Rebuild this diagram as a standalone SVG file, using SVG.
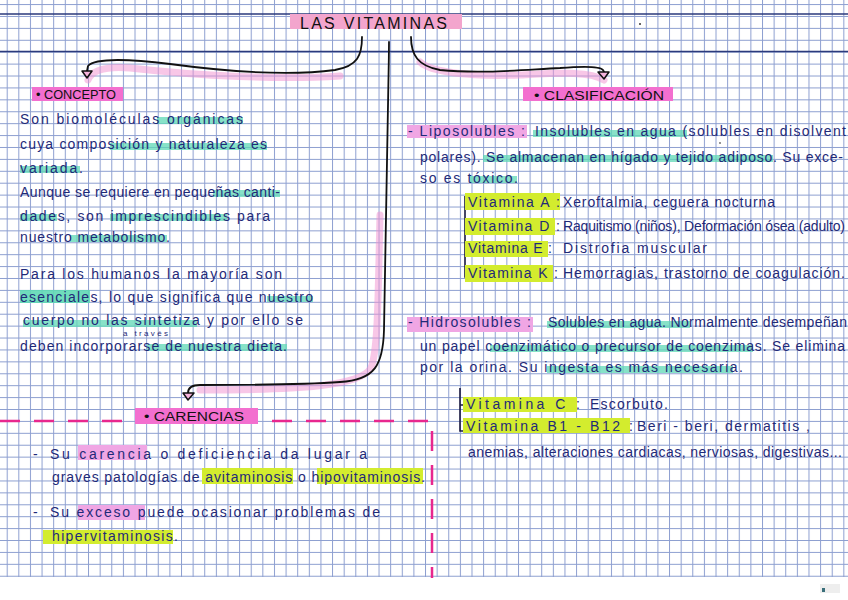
<svg xmlns="http://www.w3.org/2000/svg" width="848" height="600" viewBox="0 0 848 600">
<defs>
<pattern id="grid" patternUnits="userSpaceOnUse" x="6.7" y="4.06" width="11.62" height="11.91">
<path d="M0 0.5H11.62M0.5 0V11.91" stroke="#8d9fd0" stroke-width="1" fill="none"/>
</pattern>
</defs>
<style>
.h{font-family:"Liberation Sans","DejaVu Sans",sans-serif;font-size:14px;fill:#1f2a78;}
.s{font-family:"Liberation Sans","DejaVu Sans",sans-serif;font-size:8px;fill:#1f2a78;}
.lb{font-family:"Liberation Sans","DejaVu Sans",sans-serif;font-size:13px;fill:#111;}
.tl{font-family:"Liberation Sans","DejaVu Sans",sans-serif;font-size:16px;fill:#111;}
.box{fill:#f36fcf;}
.tb{fill:#f3a5cd;}
.pk{fill:#f0a6e4;}
.tq{fill:#5fd8b5;opacity:0.75;}
.tqs{fill:#5fd8b5;opacity:0.9;}
.yl{fill:#d3ec2e;}
.con{fill:none;stroke:#111;stroke-width:1.8;stroke-linecap:round;stroke-linejoin:round;}
.glow{fill:none;stroke:#f28fcf;stroke-width:7;opacity:0.5;stroke-linecap:round;}
.ah{fill:#f6b3dc;stroke:#111;stroke-width:1.5;stroke-linejoin:round;}
.br{fill:none;stroke:#1a1a40;stroke-width:1.6;}
.dash{fill:none;stroke:#e8278e;stroke-width:2.5;stroke-dasharray:20 14;}
</style>
<rect width="848" height="600" fill="#ffffff"/>
<rect x="0" y="0" width="848" height="577" fill="url(#grid)"/>
<path d="M0 14H848M0 51.5H848" stroke="#2b3a7c" stroke-width="1.6"/>
<circle cx="640" cy="24" r="1" fill="#333"/>
<circle cx="720" cy="143" r="0.9" fill="#666"/>
<rect x="820" y="584" width="20" height="9" fill="#eeeeee"/>
<rect x="822" y="588" width="3" height="4" fill="#3a6f7a"/>

<g id="connectors">
<path class="glow" d="M340 76 C280 80 200 76 130 68 C105 66 92 70 88 80"/>
<path class="glow" d="M420 62 C430 72 470 77 520 75 C560 73 590 71 604 80"/>
<path class="glow" d="M380 215 C378 300 378 350 371 368 C361 386 300 390 200 390"/>
<path class="con" d="M362 37 C362 55 358 66 335 70 C290 76 230 72 170 64 C130 59 95 58 88 66 L87 71"/>
<path class="ah" d="M82 71 L92 71 L87 78 Z"/>
<path class="con" d="M411 37 C411 55 418 66 440 70 C480 74 520 70 560 68 C585 66 600 66 603 70 L604 72"/>
<path class="ah" d="M598 72 L609 72 L604 79 Z"/>
<path class="con" d="M389 42 C388 150 386 260 384 330 C383 365 375 380 340 382 C300 385 240 385 200 385 C192 385 188 388 188 393"/>
<path class="ah" d="M183 393 L194 393 L188 400 Z"/>
<path class="dash" d="M0 421 H432 V578"/>
</g>

<g id="title">
<rect class="tb" x="290" y="14" width="172" height="15"/>
<text class="tl" x="300" y="29" textLength="147" lengthAdjust="spacing">LAS VITAMINAS</text>
</g>

<g id="concepto">
<rect class="box" x="32" y="87" width="91" height="14"/>
<text class="lb" x="36" y="99" textLength="80" lengthAdjust="spacingAndGlyphs">• CONCEPTO</text>
</g>

<g id="concepto-texto">
<rect class="tq" x="157" y="117" width="86" height="7"/>
<rect class="tq" x="110" y="143" width="157" height="7"/>
<rect class="tq" x="20" y="166" width="60" height="7"/>
<rect class="tq" x="213" y="190" width="67" height="7"/>
<rect class="tq" x="20" y="214" width="37" height="7"/>
<rect class="tq" x="110" y="214" width="117" height="7"/>
<rect class="tq" x="70" y="235" width="97" height="7"/>
<rect class="tqs" x="20" y="290" width="70" height="13"/>
<rect class="tq" x="267" y="296" width="46" height="6"/>
<rect class="tq" x="23" y="320" width="174" height="7"/>
<rect class="tq" x="147" y="344" width="140" height="7"/>
<text class="h" x="20" y="124" textLength="223" lengthAdjust="spacing">Son biomoléculas orgánicas</text>
<text class="h" x="20" y="149" textLength="247" lengthAdjust="spacing">cuya composición y naturaleza es</text>
<text class="h" x="20" y="173" textLength="63" lengthAdjust="spacing">variada.</text>
<text class="h" x="20" y="197" textLength="260" lengthAdjust="spacing">Aunque se requiere en pequeñas canti-</text>
<text class="h" x="20" y="221" textLength="250" lengthAdjust="spacing">dades, son imprescindibles para</text>
<text class="h" x="20" y="242" textLength="150" lengthAdjust="spacing">nuestro metabolismo.</text>
<text class="h" x="20" y="279" textLength="262" lengthAdjust="spacing">Para los humanos la mayoría son</text>
<text class="h" x="20" y="302" textLength="293" lengthAdjust="spacing">esenciales, lo que significa que nuestro</text>
<text class="h" x="23" y="325" textLength="280" lengthAdjust="spacing">cuerpo no las sintetiza y por ello se</text>
<text class="s" x="123" y="336" textLength="45" lengthAdjust="spacing">a través</text>
<text class="h" x="20" y="351" textLength="267" lengthAdjust="spacing">deben incorporarse de nuestra dieta.</text>
</g>

<g id="clasificacion">
<rect class="box" x="523" y="87" width="150" height="14"/>
<text class="lb" x="534" y="100" textLength="130" lengthAdjust="spacingAndGlyphs">• CLASIFICACIÓN</text>
</g>

<g id="liposolubles">
<rect class="pk" x="407" y="125" width="120" height="13"/>
<rect class="tq" x="533" y="130" width="154" height="7"/>
<rect class="tq" x="483" y="155" width="290" height="7"/>
<rect class="tq" x="470" y="176" width="47" height="7"/>
<text class="h" x="408" y="136" textLength="117" lengthAdjust="spacing">- Liposolubles :</text>
<text class="h" x="535" y="136" textLength="311" lengthAdjust="spacing">Insolubles en agua (solubles en disolvent</text>
<text class="h" x="420" y="162" textLength="423" lengthAdjust="spacing">polares). Se almacenan en hígado y tejido adiposo. Su exce-</text>
<text class="h" x="420" y="183" textLength="98" lengthAdjust="spacing">so es tóxico.</text>
<path class="br" d="M465 196 V277 H472 M465 202 H470 M465 227 H470 M465 248 H470"/>
<rect class="yl" x="465" y="193" width="95" height="17"/>
<rect class="yl" x="465" y="218" width="90" height="17"/>
<rect class="yl" x="465" y="241" width="83" height="16"/>
<rect class="yl" x="465" y="265" width="88" height="17"/>
<text class="h" x="468" y="207" textLength="92" lengthAdjust="spacing">Vitamina A :</text>
<text class="h" x="563" y="207" textLength="212" lengthAdjust="spacing">Xeroftalmia, ceguera nocturna</text>
<text class="h" x="468" y="231" textLength="92" lengthAdjust="spacing">Vitamina D :</text>
<text class="h" x="563" y="231" textLength="282" lengthAdjust="spacing">Raquitismo (niños), Deformación ósea (adulto)</text>
<text class="h" x="468" y="253" textLength="84" lengthAdjust="spacing">Vitamina E :</text>
<text class="h" x="563" y="253" textLength="144" lengthAdjust="spacing">Distrofia muscular</text>
<text class="h" x="468" y="278" textLength="90" lengthAdjust="spacing">Vitamina K :</text>
<text class="h" x="563" y="278" textLength="282" lengthAdjust="spacing">Hemorragias, trastorno de coagulación.</text>
</g>

<g id="hidrosolubles">
<rect class="pk" x="407" y="317" width="126" height="15"/>
<rect class="tq" x="547" y="321" width="143" height="7"/>
<rect class="tq" x="490" y="345" width="263" height="7"/>
<rect class="tq" x="547" y="366" width="186" height="7"/>
<text class="h" x="408" y="327" textLength="123" lengthAdjust="spacing">- Hidrosolubles :</text>
<text class="h" x="548" y="327" textLength="299" lengthAdjust="spacing">Solubles en agua. Normalmente desempeñan</text>
<text class="h" x="420" y="351" textLength="425" lengthAdjust="spacing">un papel coenzimático o precursor de coenzimas. Se elimina</text>
<text class="h" x="420" y="372" textLength="323" lengthAdjust="spacing">por la orina. Su ingesta es más necesaria.</text>
<path class="br" d="M460 388 V431 H466 M460 405 H465"/>
<rect class="yl" x="463" y="397" width="114" height="15"/>
<rect class="yl" x="463" y="418" width="167" height="15"/>
<text class="h" x="466" y="409" textLength="114" lengthAdjust="spacing">Vitamina C :</text>
<text class="h" x="590" y="409" textLength="78" lengthAdjust="spacing">Escorbuto.</text>
<text class="h" x="466" y="431" textLength="167" lengthAdjust="spacing">Vitamina B1 - B12 :</text>
<text class="h" x="637" y="431" textLength="173" lengthAdjust="spacing">Beri - beri, dermatitis ,</text>
<text class="h" x="468" y="457" textLength="374" lengthAdjust="spacing">anemias, alteraciones cardiacas, nerviosas, digestivas...</text>
</g>

<g id="carencias">
<rect class="box" x="135" y="408" width="123" height="16"/>
<text class="lb" x="144" y="421" textLength="100" lengthAdjust="spacingAndGlyphs">• CARENCIAS</text>
</g>

<g id="carencias-texto">
<rect class="pk" x="78" y="445" width="69" height="15"/>
<rect class="yl" x="202" y="468" width="91" height="16"/>
<rect class="yl" x="317" y="468" width="106" height="16"/>
<rect class="pk" x="78" y="505" width="67" height="15"/>
<rect class="yl" x="43" y="530" width="130" height="14"/>
<text class="h" x="33" y="459">-</text>
<text class="h" x="50" y="459" textLength="317" lengthAdjust="spacing">Su carencia o deficiencia da lugar a</text>
<text class="h" x="52" y="482" textLength="373" lengthAdjust="spacing">graves patologías de avitaminosis o hipovitaminosis.</text>
<text class="h" x="33" y="517">-</text>
<text class="h" x="50" y="517" textLength="330" lengthAdjust="spacing">Su exceso puede ocasionar problemas de</text>
<text class="h" x="52" y="541" textLength="126" lengthAdjust="spacing">hipervitaminosis.</text>
</g>
</svg>
